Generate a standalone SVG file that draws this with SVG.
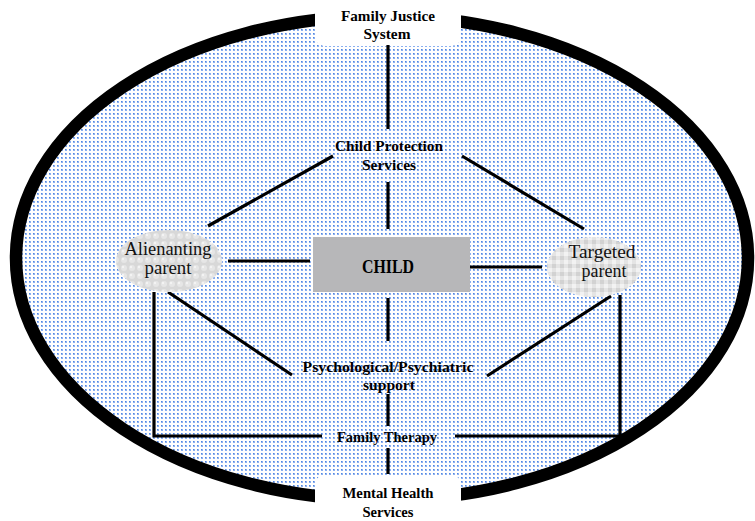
<svg xmlns="http://www.w3.org/2000/svg" width="755" height="521" viewBox="0 0 755 521">
<defs>
<pattern id="dots" width="4" height="4" patternUnits="userSpaceOnUse">
<rect width="4" height="4" fill="#ffffff"/>
<rect x="1" y="1" width="2" height="2" fill="#8cb0f0"/>
<rect x="1" y="1" width="1" height="1" fill="#4f86e0"/>
</pattern>
<pattern id="bubbles" width="8" height="8" patternUnits="userSpaceOnUse">
<rect width="8" height="8" fill="#d8d8d8"/>
<circle cx="4" cy="4" r="3" fill="#e6e6e6"/>
<circle cx="3" cy="3" r="1.2" fill="#f4f4f4"/>
</pattern>
<pattern id="checks" width="8" height="8" patternUnits="userSpaceOnUse">
<rect width="8" height="8" fill="#e4e4e4"/>
<rect width="4" height="4" fill="#d2d2d2"/>
<rect x="4" y="4" width="4" height="4" fill="#f2f2f2"/>
</pattern>
</defs>
<style>
.conn line, .conn polyline { stroke:#000; stroke-width:3.2; fill:none; stroke-linecap:butt; }
.b { font-family:"Liberation Serif","Times New Roman",serif; font-weight:bold; font-size:15px; fill:#000; text-anchor:middle; }
.r { font-family:"Liberation Serif","Times New Roman",serif; font-size:18px; fill:#111; text-anchor:middle; }
</style>
<g id="boundary">
<ellipse cx="382" cy="258" rx="366" ry="242" fill="url(#dots)" stroke="#000" stroke-width="12.5"/>
</g>
<g id="family-justice">
<path d="M315,0 H461 V35 Q461,46 450,46 H326 Q315,46 315,35 Z" fill="#fff"/>
<text class="b" x="388" y="21" textLength="94" lengthAdjust="spacingAndGlyphs">Family Justice</text>
<text class="b" x="387" y="39" textLength="47" lengthAdjust="spacingAndGlyphs">System</text>
</g>
<g id="mental-health">
<path d="M315,521 V486 Q315,475 326,475 H450 Q461,475 461,486 V521 Z" fill="#fff"/>
<text class="b" x="388" y="498" textLength="91" lengthAdjust="spacingAndGlyphs">Mental Health</text>
<text class="b" x="388" y="517" textLength="51" lengthAdjust="spacingAndGlyphs">Services</text>
</g>
<g class="conn" id="connectors">
<line x1="388" y1="45" x2="388" y2="129"/>
<line x1="388" y1="182" x2="388" y2="229"/>
<line x1="333" y1="156" x2="208" y2="226"/>
<line x1="462" y1="156" x2="584" y2="229"/>
<line x1="228" y1="261" x2="310" y2="261"/>
<line x1="470" y1="267" x2="542" y2="267"/>
<line x1="388" y1="298" x2="388" y2="341"/>
<line x1="168" y1="292" x2="292" y2="375"/>
<line x1="487" y1="376" x2="611" y2="296"/>
<line x1="388" y1="394" x2="388" y2="426"/>
<line x1="388" y1="448" x2="388" y2="474"/>
<polyline points="154,292 154,436 322,436"/>
<polyline points="455,436 620,436 620,295"/>
</g>
<g id="child-protection">
<text class="b" x="389" y="151" textLength="108" lengthAdjust="spacingAndGlyphs">Child Protection</text>
<text class="b" x="389" y="170" textLength="54" lengthAdjust="spacingAndGlyphs">Services</text>
</g>
<g id="child">
<rect x="313" y="237" width="157" height="55" fill="#b7b7b9"/>
<text x="388" y="273" font-family="Liberation Serif, Times New Roman, serif" font-weight="bold" font-size="18" text-anchor="middle" textLength="52" lengthAdjust="spacingAndGlyphs">CHILD</text>
</g>
<g id="alienating-parent">
<ellipse cx="169" cy="261" rx="53" ry="31" fill="url(#bubbles)"/>
<text class="r" x="168" y="255" textLength="87" lengthAdjust="spacingAndGlyphs">Alienanting</text>
<text class="r" x="168" y="274" textLength="47" lengthAdjust="spacingAndGlyphs">parent</text>
</g>
<g id="targeted-parent">
<ellipse cx="594" cy="267" rx="47" ry="30" fill="url(#checks)"/>
<text class="r" x="602" y="258" textLength="67" lengthAdjust="spacingAndGlyphs">Targeted</text>
<text class="r" x="604" y="277" textLength="45" lengthAdjust="spacingAndGlyphs">parent</text>
</g>
<g id="psych-support">
<text class="b" x="388" y="372" textLength="171" lengthAdjust="spacingAndGlyphs">Psychological/Psychiatric</text>
<text class="b" x="389" y="390" textLength="52" lengthAdjust="spacingAndGlyphs">support</text>
</g>
<g id="family-therapy">
<text class="b" x="387" y="442" textLength="100" lengthAdjust="spacingAndGlyphs">Family Therapy</text>
</g>
</svg>
